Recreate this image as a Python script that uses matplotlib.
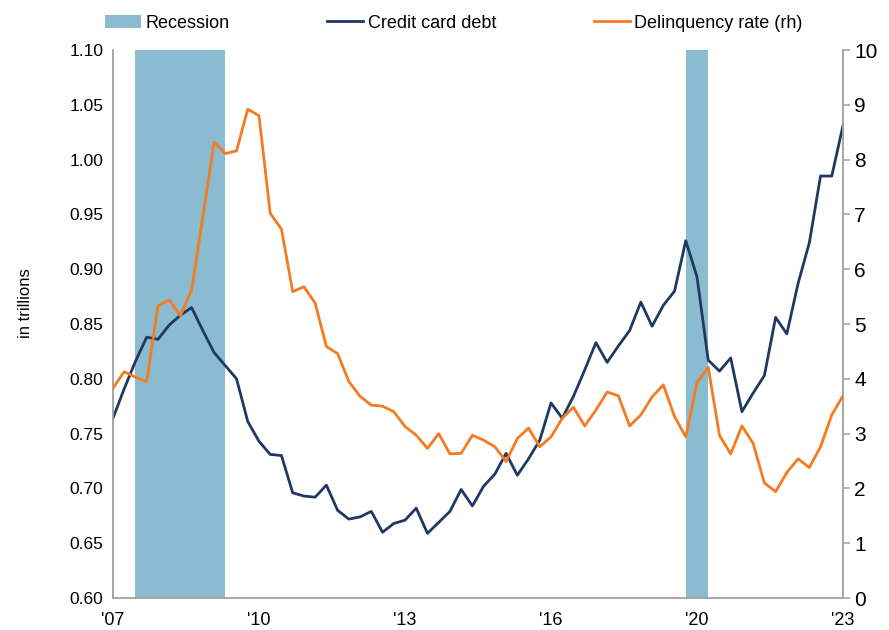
import numpy as np
import matplotlib
matplotlib.use("Agg")
import matplotlib.pyplot as plt
from matplotlib.patches import Patch
from matplotlib.lines import Line2D

# quarterly series
debt = [0.764, 0.791, 0.816, 0.838, 0.836, 0.849, 0.858, 0.865, 0.844, 0.824,
        0.812, 0.800, 0.761, 0.743, 0.731, 0.730, 0.696, 0.693, 0.692, 0.703,
        0.680, 0.672, 0.674, 0.679, 0.660, 0.668, 0.671, 0.682, 0.659, 0.669,
        0.679, 0.699, 0.684, 0.702, 0.713, 0.732, 0.712, 0.727, 0.744, 0.778,
        0.764, 0.784, 0.808, 0.833, 0.815, 0.830, 0.844, 0.870, 0.848, 0.867,
        0.880, 0.926, 0.893, 0.817, 0.807, 0.819, 0.770, 0.787, 0.803, 0.856,
        0.841, 0.887, 0.924, 0.985, 0.985, 1.031]
delinq = [3.83, 4.13, 4.03, 3.95, 5.33, 5.44, 5.15, 5.62, 6.96, 8.32,
          8.11, 8.16, 8.92, 8.80, 7.02, 6.73, 5.59, 5.68, 5.38, 4.59,
          4.46, 3.95, 3.68, 3.52, 3.50, 3.40, 3.13, 2.97, 2.73, 3.00,
          2.63, 2.64, 2.97, 2.88, 2.76, 2.49, 2.91, 3.10, 2.76, 2.94,
          3.28, 3.48, 3.14, 3.43, 3.76, 3.69, 3.14, 3.34, 3.67, 3.89,
          3.31, 2.94, 3.93, 4.21, 2.97, 2.63, 3.14, 2.82, 2.10, 1.94,
          2.29, 2.54, 2.38, 2.76, 3.34, 3.69]
# quarters flagged as recession (index into the series)
recession_q = [2, 3, 4, 5, 6, 7, 8, 9, 51, 52]
xlabels = ["'07", "'10", "'13", "'16", "'20", "'23"]
left_ticks = [0.60, 0.65, 0.70, 0.75, 0.80, 0.85, 0.90, 0.95, 1.00, 1.05, 1.10]
right_ticks = list(range(0, 11))

REC_COLOR = "#8BBBD0"
DEBT_COLOR = "#1F3864"
DEL_COLOR = "#F47B20"
GREY = "#A6A6A6"

plt.rcParams["font.family"] = ["Liberation Sans", "DejaVu Sans"]

fig = plt.figure(figsize=(8.89, 6.3), dpi=100)
ax = fig.add_axes([113/889, 32/630, 730/889, 548/630])
ax2 = ax.twinx()

n = len(debt)
x = np.arange(n)
ylo, yhi = left_ticks[0], left_ticks[-1]

# recession shading as full-height bars
rec = np.zeros(n)
rec[recession_q] = 1
ax.bar(x, rec * (yhi - ylo), bottom=ylo, width=1.0, align="edge",
       color=REC_COLOR, linewidth=0, zorder=1)

ax.plot(x, debt, color=DEBT_COLOR, linewidth=2.0, zorder=3)
ax2.plot(x, delinq, color=DEL_COLOR, linewidth=2.0, zorder=3)

ax.set_xlim(0, n - 1)
ax.set_ylim(ylo, yhi)
ax2.set_ylim(0, 10)

ax.set_yticks(left_ticks)
ax.set_yticklabels(["%.2f" % v for v in left_ticks])
ax2.set_yticks(right_ticks)

ax.set_xticks(np.linspace(0, n - 1, len(xlabels)))
ax.set_xticklabels(xlabels)

# spines
for a in (ax, ax2):
    a.spines["top"].set_visible(False)
    for s in ("left", "right", "bottom"):
        a.spines[s].set_color(GREY)
        a.spines[s].set_linewidth(1.2)

ax.tick_params(axis="y", length=0, pad=7, labelsize=12.5, colors="black")
ax.tick_params(axis="x", length=0, pad=10, labelsize=13)
ax2.tick_params(axis="y", length=5, width=1.2, color=GREY, pad=3, labelsize=15)

fig.text(25/889, 1 - 303/630, "in trillions", rotation=90,
         ha="center", va="center", fontsize=12)

handles = [Patch(facecolor=REC_COLOR, edgecolor="none"),
           Line2D([], [], color=DEBT_COLOR, linewidth=2.0),
           Line2D([], [], color=DEL_COLOR, linewidth=2.0)]
labels = ["Recession", "Credit card debt", "Delinquency rate (rh)"]
fig.legend(handles, labels, loc="center", bbox_to_anchor=(454/889, 1 - 23/630),
           ncol=3, frameon=False, fontsize=13, handlelength=2.0,
           handletextpad=0.25, columnspacing=5.4)

fig.savefig("out.png", dpi=100)
